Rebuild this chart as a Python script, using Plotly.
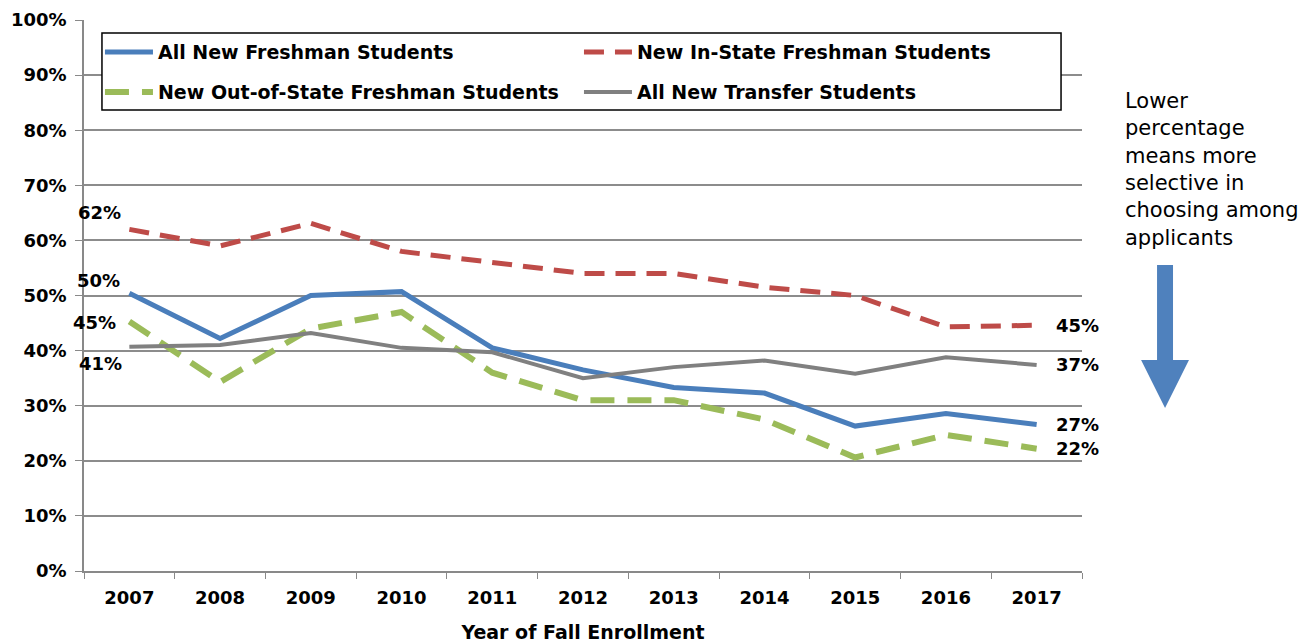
import plotly.graph_objects as go

# ----------------------------------------------------
# Data
# ----------------------------------------------------

years = ["2007", "2008", "2009", "2010", "2011", "2012",
         "2013", "2014", "2015", "2016", "2017"]

all_freshman = [50.4, 42.2, 50.0, 50.7, 40.5, 36.5, 33.3, 32.3, 26.3, 28.6, 26.6]
in_state = [62.0, 59.0, 63.1, 58.0, 56.0, 54.0, 54.0, 51.5, 50.0, 44.3, 44.6]
out_of_state = [45.3, 34.3, 44.0, 47.0, 36.0, 31.0, 31.0, 27.5, 20.6, 24.7, 22.2]
transfer = [40.7, 41.0, 43.2, 40.5, 39.7, 35.0, 37.0, 38.2, 35.8, 38.8, 37.4]

series = [
    ("All New Freshman Students", all_freshman, "#4A7EBB", 5, "solid", "legend"),
    ("New In-State Freshman Students", in_state, "#BE4B48", 5, "20px,11px", "legend"),
    ("New Out-of-State Freshman Students", out_of_state, "#9BBB59", 6, "24px,13px", "legend2"),
    ("All New Transfer Students", transfer, "#808080", 4, "solid", "legend2"),
]

note_lines = ["Lower", "percentage", "means more", "selective in",
              "choosing among", "applicants"]

BOLD = dict(family="DejaVu Sans", color="black", weight="bold")

fig = go.Figure()

for name, vals, color, width, dash, leg in series:
    fig.add_trace(
        go.Scatter(
            x=years,
            y=vals,
            name=name,
            mode="lines",
            legend=leg,
            line=dict(color=color, width=width, dash=dash),
        )
    )

# ----------------------------------------------------
# End-point labels
# ----------------------------------------------------

start_shift = {
    "All New Freshman Students": (-7, 13),
    "New In-State Freshman Students": (-6, 17),
    "New Out-of-State Freshman Students": (-11, -1),
    "All New Transfer Students": (-5, -17),
}

first, last = 0, len(years) - 1

for name, vals, color, width, dash, leg in series:
    dx, dy = start_shift[name]
    fig.add_annotation(
        x=first, y=vals[first], text="%d%%" % round(vals[first]),
        showarrow=False, xanchor="right", xshift=dx, yshift=dy,
        font=dict(BOLD, size=18),
    )
    fig.add_annotation(
        x=last, y=vals[last], text="%d%%" % round(vals[last]),
        showarrow=False, xanchor="left", xshift=17,
        font=dict(BOLD, size=18),
    )

# ----------------------------------------------------
# Side note and arrow
# ----------------------------------------------------

fig.add_annotation(
    xref="paper", yref="paper", x=1.041, y=0.8784,
    xanchor="left", yanchor="top", align="left",
    text="<br>".join(note_lines), showarrow=False,
    font=dict(family="DejaVu Sans", size=21, color="black"),
)

fig.add_shape(
    type="path", xref="paper", yref="paper",
    path="M 1.0752 0.5554 L 1.0912 0.5554 L 1.0912 0.3829 L 1.1072 0.3829 "
         "L 1.0832 0.2958 L 1.0592 0.3829 L 1.0752 0.3829 Z",
    fillcolor="#4F81BD", line=dict(width=0),
)

# legend frame
fig.add_shape(
    type="rect", xref="paper", yref="paper",
    x0=0.018, x1=0.979, y0=0.8367, y1=0.9764,
    fillcolor="white", line=dict(color="black", width=1.5),
    layer="above",
)

# ----------------------------------------------------
# Layout
# ----------------------------------------------------

legend_common = dict(
    orientation="h",
    xanchor="left", yanchor="top",
    bgcolor="rgba(0,0,0,0)", borderwidth=0,
    font=dict(BOLD, size=19),
    entrywidth=416, itemwidth=48, traceorder="normal",
)

fig.update_layout(
    width=1305,
    height=636,
    paper_bgcolor="white",
    plot_bgcolor="white",
    margin=dict(l=76, r=231, t=12, b=73),
    font=dict(family="DejaVu Sans", color="black"),
    showlegend=True,
    legend=dict(legend_common, x=0.016, y=0.976),
    legend2=dict(legend_common, x=0.016, y=0.9034),
    xaxis=dict(
        type="category",
        range=[-0.5, 10.5],
        showgrid=False, automargin=False,
        showline=True, linecolor="#898989", linewidth=1.5,
        ticks="outside", tickson="boundaries", ticklen=6, tickcolor="#898989",
        ticklabelstandoff=10,
        tickfont=dict(BOLD, size=18),
        title=dict(text="Year of Fall Enrollment", standoff=18,
                   font=dict(BOLD, size=19)),
    ),
    yaxis=dict(
        range=[0, 100], dtick=10, ticksuffix="%",
        showgrid=True, gridcolor="#8c8c8c", gridwidth=1.5,
        showline=True, linecolor="#898989", linewidth=1.5,
        ticks="outside", ticklen=7, tickcolor="#898989",
        ticklabelstandoff=5, automargin=False,
        ticklabeloverflow="allow",
        tickfont=dict(BOLD, size=18),
        zeroline=False,
    ),
)

fig.write_html("out.html")
